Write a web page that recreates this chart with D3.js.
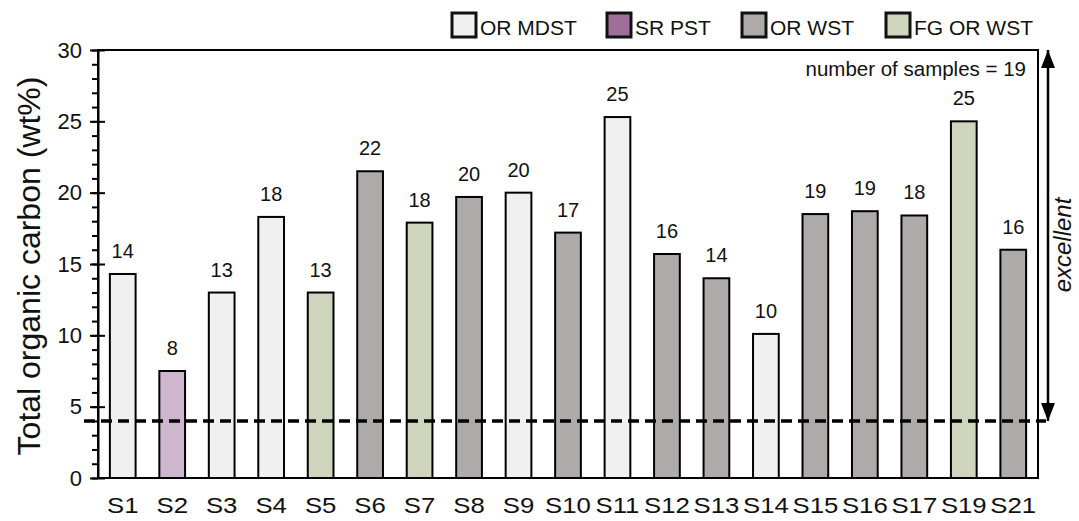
<!DOCTYPE html>
<html><head><meta charset="utf-8">
<script src="https://cdn.jsdelivr.net/npm/d3@7"></script>
<style>body{margin:0;background:#fff}svg{display:block;font-family:"Liberation Sans",Arial,sans-serif}</style>
</head><body><svg id="c" width="1079" height="521"></svg>
<script>
const samples = ["S1","S2","S3","S4","S5","S6","S7","S8","S9","S10","S11","S12","S13","S14","S15","S16","S17","S19","S21"];
const tocValues = [14.3,7.5,13.0,18.3,13.0,21.5,17.9,19.7,20.0,17.2,25.3,15.7,14.0,10.1,18.5,18.7,18.4,25.0,16.0];
const valueLabels = ["14","8","13","18","13","22","18","20","20","17","25","16","14","10","19","19","18","25","16"];
const lithology = ["OR MDST","SR PST","OR MDST","OR MDST","FG OR WST","OR WST","FG OR WST","OR WST","OR MDST","OR WST","OR MDST","OR WST","OR WST","OR MDST","OR WST","OR WST","OR WST","FG OR WST","OR WST"];
const legendNames = ["OR MDST","SR PST","OR WST","FG OR WST"];
const legendColors = ["#f0f0f0","#9e7099","#aeaaa9","#cfd4bc"];
const barColors = ["#f0f0f0","#cfb6cf","#aeaaa9","#cfd4bc"];
const yTicks = [0,5,10,15,20,25,30];
const threshold = 4;
const sampleCountText = "number of samples = 19";
const yTitle = "Total organic carbon (wt%)";
const rangeLabel = "excellent";

const svg = d3.select("#c");
const L = 98, R = 1038, T = 50, B = 478;
const x = d3.scaleBand().domain(samples).range([L, R]).paddingInner(0.48).paddingOuter(0.24);
const y = d3.scaleLinear().domain([0, 30]).range([B, T]);
const fillOf = d3.scaleOrdinal().domain(legendNames).range(barColors);
const legendFill = d3.scaleOrdinal().domain(legendNames).range(legendColors);

// bars
svg.append("g").selectAll("rect").data(samples).join("rect")
  .attr("x", d => x(d)).attr("width", x.bandwidth())
  .attr("y", (d,i) => y(tocValues[i])).attr("height", (d,i) => B - y(tocValues[i]))
  .attr("fill", (d,i) => fillOf(lithology[i])).attr("stroke", "#000").attr("stroke-width", 2);

// value labels
svg.append("g").selectAll("text").data(samples).join("text")
  .attr("x", d => x(d) + x.bandwidth()/2).attr("y", (d,i) => y(tocValues[i]) - 16)
  .attr("text-anchor", "middle").attr("font-size", 20).attr("fill", "#111")
  .text((d,i) => valueLabels[i]);

// frame
svg.append("rect").attr("x", L).attr("y", T).attr("width", R-L).attr("height", B-T)
  .attr("fill", "none").attr("stroke", "#000").attr("stroke-width", 2);

// threshold dashed line
svg.append("line").attr("x1", 84).attr("x2", 1046).attr("y1", y(threshold)).attr("y2", y(threshold))
  .attr("stroke", "#000").attr("stroke-width", 3.5).attr("stroke-dasharray", "11,6");

// y axis minor ticks
const yMinor = d3.axisLeft(y).tickValues(d3.range(0, 31, 1)).tickSize(6).tickFormat("");
const gm = svg.append("g").attr("transform", `translate(${L},0)`).call(yMinor);
gm.select(".domain").remove();
gm.selectAll("line").attr("stroke-width", 2);
// y axis major
const yAxis = d3.axisLeft(y).tickValues(yTicks).tickSizeInner(8).tickSizeOuter(0).tickPadding(10);
const ga = svg.append("g").attr("transform", `translate(${L},0)`).call(yAxis);
ga.select(".domain").attr("stroke-width", 2);
ga.selectAll(".tick line").attr("x2", 7).attr("x1", -8).attr("stroke-width", 2);
ga.selectAll(".tick text").attr("font-size", 22).attr("font-family", "Liberation Sans, Arial, sans-serif").attr("fill", "#111").attr("x", -16);

// x axis labels
const xAxis = d3.axisBottom(x).tickSize(0).tickPadding(19);
const gx = svg.append("g").attr("transform", `translate(0,${B})`).call(xAxis);
gx.select(".domain").remove();
gx.selectAll(".tick text").attr("font-size", 23).attr("font-family", "Liberation Sans, Arial, sans-serif")
  .attr("fill", "#111").attr("transform", "scale(1.12,1)");

// y title
svg.append("text").attr("transform", `translate(40,${(T+B)/2+2}) rotate(-90)`)
  .attr("text-anchor", "middle").attr("font-size", 32).attr("fill", "#111").text(yTitle);

// sample count
svg.append("text").attr("x", 1026).attr("y", 76).attr("text-anchor", "end")
  .attr("font-size", 20.5).attr("fill", "#111").text(sampleCountText);

// arrow
const defs = svg.append("defs");
["ah","ah2"].forEach((id, k) => {
  defs.append("marker").attr("id", id).attr("viewBox", "0 0 18 14").attr("refX", 18).attr("refY", 7)
    .attr("markerWidth", 18).attr("markerHeight", 14).attr("markerUnits", "userSpaceOnUse")
    .attr("orient", k ? "auto-start-reverse" : "auto")
    .append("path").attr("d", "M0,0 L18,7 L0,14 Z").attr("fill", "#000");
});
svg.append("line").attr("x1", 1048).attr("x2", 1048).attr("y1", y(threshold)).attr("y2", T)
  .attr("stroke", "#000").attr("stroke-width", 2.5).attr("marker-end", "url(#ah)").attr("marker-start", "url(#ah2)");

// excellent
svg.append("text").attr("transform", `translate(1071,${245}) rotate(-90)`)
  .attr("text-anchor", "middle").attr("font-size", 24).attr("font-style", "italic").attr("fill", "#111").text(rangeLabel);

// legend
const legX = [452, 607, 742, 886];
const lg = svg.append("g").selectAll("g").data(legendNames).join("g")
  .attr("transform", (d,i) => `translate(${legX[i]},13)`);
lg.append("rect").attr("width", 24).attr("height", 24).attr("fill", d => legendFill(d))
  .attr("stroke", "#111").attr("stroke-width", 3);
lg.append("text").attr("x", 28).attr("y", 22).attr("font-size", 21).attr("fill", "#111").text(d => d);
</script></body></html>
